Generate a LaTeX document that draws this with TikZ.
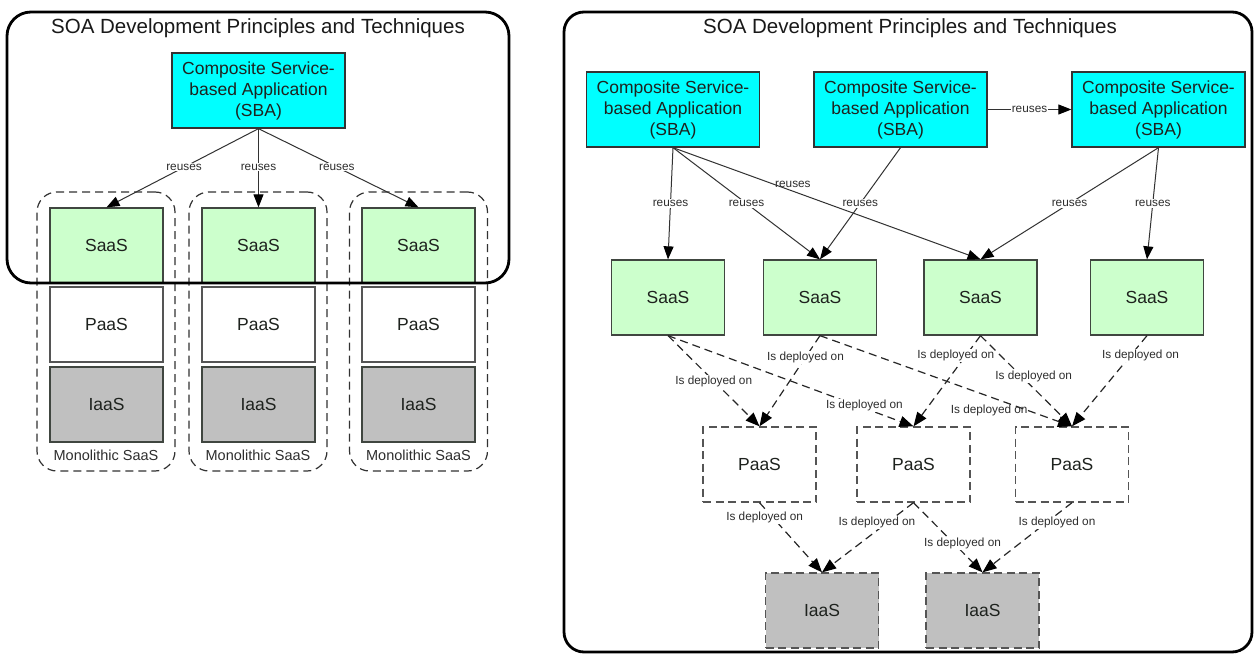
\documentclass[tikz,border=0pt]{standalone}
\usepackage{fontspec}
\setmainfont{Liberation Sans}
\usetikzlibrary{arrows.meta}
\definecolor{sbacyan}{RGB}{0,255,255}
\definecolor{saasgreen}{RGB}{204,255,204}
\definecolor{iaasgray}{RGB}{192,192,192}
\definecolor{boxline}{RGB}{64,70,64}
\definecolor{txt}{RGB}{30,34,30}
\definecolor{edgecol}{RGB}{50,50,50}
\definecolor{lblcol}{RGB}{45,45,45}
\definecolor{dashcol}{RGB}{85,85,85}
\tikzset{
  box/.style={draw=boxline, line width=1.3pt, inner sep=0pt, minimum width=113pt,
    minimum height=75pt, font=\fontsize{17.5}{21}\selectfont, text=txt, align=center},
  sba/.style={box, fill=sbacyan, minimum width=173pt, draw=black!80},
  saas/.style={box, fill=saasgreen},
  paas/.style={box, fill=white, draw=dashcol},
  iaas/.style={box, fill=iaasgray},
  dashedbox/.style={dash pattern=on 8pt off 4.5pt, draw=dashcol},
  reuse/.style={draw=edgecol, line width=1pt, -{Triangle[length=13pt,width=10pt,color=black]}},
  deploy/.style={draw=black!85, line width=1.2pt, dash pattern=on 8pt off 5pt,
    -{Triangle[length=14pt,width=11pt,color=black]}},
  lbl/.style={font=\fontsize{11.8}{13}\selectfont, text=lblcol, fill=white, inner sep=1pt},
  lblclear/.style={font=\fontsize{11.8}{13}\selectfont, text=lblcol, inner sep=1pt},
  frame/.style={draw=black, line width=2.8pt, inner sep=0pt},
  mono/.style={draw=edgecol, line width=1.2pt, dash pattern=on 8pt off 5pt,
    rounded corners=20pt, inner sep=0pt, minimum width=138pt, minimum height=279pt},
  monolbl/.style={font=\fontsize{14.5}{16}\selectfont, text=lblcol},
  title/.style={font=\fontsize{20.5}{24}\selectfont, text=black!90}
}
\begin{document}
\begin{tikzpicture}[x=1pt,y=-1pt]
\useasboundingbox (0,0) rectangle (1255,655);
\fill[white] (0,0) rectangle (1255,655);

% ---------- left panel ----------
\node[mono] (lc1) at (106,331.5) {};
\node[mono] (lc2) at (258,331.5) {};
\node[mono] (lc3) at (418.5,331.5) {};
\node[monolbl] (lm1) at (106,455) {Monolithic SaaS};
\node[monolbl] (lm2) at (258,455) {Monolithic SaaS};
\node[monolbl] (lm3) at (418.5,455) {Monolithic SaaS};

\node[sba] (lsba) at (258.5,90.5) {Composite Service-\\based Application\\(SBA)};
\node[saas] (ls1) at (106.5,245.5) {SaaS};
\node[saas] (ls2) at (258.5,245.5) {SaaS};
\node[saas] (ls3) at (418.5,245.5) {SaaS};
\node[paas] (lp1) at (106.5,324.5) {PaaS};
\node[paas] (lp2) at (258.5,324.5) {PaaS};
\node[paas] (lp3) at (418.5,324.5) {PaaS};
\node[iaas] (li1) at (106.5,404.5) {IaaS};
\node[iaas] (li2) at (258.5,404.5) {IaaS};
\node[iaas] (li3) at (418.5,404.5) {IaaS};

\draw[reuse] (lsba.south) -- (ls1.north) node[lbl, pos=0.49] {reuses};
\draw[reuse] (lsba.south) -- (ls2.north) node[lbl, pos=0.49] {reuses};
\draw[reuse] (lsba.south) -- (ls3.north) node[lbl, pos=0.49] {reuses};

\node[frame, rounded corners=24pt, minimum width=502pt, minimum height=271pt] (lframe) at (258,147.5) {};
\node[title] (ltitle) at (258,28) {SOA Development Principles and Techniques};

% ---------- right panel ----------
\node[frame, rounded corners=20pt, minimum width=688pt, minimum height=640pt] (rframe) at (908,332) {};
\node[title] (rtitle) at (910,28) {SOA Development Principles and Techniques};

\node[sba] (rsba1) at (673,109.5) {Composite Service-\\based Application\\(SBA)};
\node[sba] (rsba2) at (900.5,109.5) {Composite Service-\\based Application\\(SBA)};
\node[sba] (rsba3) at (1158.5,109.5) {Composite Service-\\based Application\\(SBA)};

\node[saas] (rs1) at (668,297.5) {SaaS};
\node[saas] (rs2) at (820,297.5) {SaaS};
\node[saas] (rs3) at (980.5,297.5) {SaaS};
\node[saas] (rs4) at (1147,297.5) {SaaS};

\node[paas, dashedbox] (rp1) at (759.5,464.5) {PaaS};
\node[paas, dashedbox] (rp2) at (913.5,464.5) {PaaS};
\node[paas, dashedbox] (rp3) at (1072,464.5) {PaaS};

\node[iaas, dashedbox] (ri1) at (822,610.5) {IaaS};
\node[iaas, dashedbox] (ri2) at (982.5,610.5) {IaaS};

% reuses
\draw[reuse] (rsba2.east) -- (rsba3.west) node[lbl, midway] {reuses};
\draw[reuse] (rsba1.south) -- (rs3.north) node[lblclear, pos=0.39, anchor=south, yshift=2pt] {reuses};
\draw[reuse] (rsba1.south) -- (rs1.north) node[lbl, pos=0.5] {reuses};
\draw[reuse] (rsba1.south) -- (rs2.north) node[lbl, pos=0.5] {reuses};
\draw[reuse] (rsba2.south) -- (rs2.north) node[lbl, pos=0.5] {reuses};
\draw[reuse] (rsba3.south) -- (rs3.north) node[lbl, pos=0.5] {reuses};
\draw[reuse] (rsba3.south) -- (rs4.north) node[lbl, pos=0.5] {reuses};

% is deployed on
\draw[deploy] (rs1.south) -- (rp1.north) node[lbl, pos=0.5] {Is deployed on};
\draw[deploy] (rs1.south) -- (rp2.north) node[lbl, pos=0.8, yshift=3pt] {Is deployed on};
\draw[deploy] (rs2.south) -- (rp1.north) node[lbl, pos=0.24] {Is deployed on};
\draw[deploy] (rs2.south) -- (rp3.north) node[lblclear, pos=0.83, anchor=east] {Is deployed on};
\draw[deploy] (rs3.south) -- (rp2.north) node[lbl, pos=0.22, xshift=-10pt] {Is deployed on};
\draw[deploy] (rs3.south) -- (rp3.north) node[lbl, pos=0.45, xshift=12pt] {Is deployed on};
\draw[deploy] (rs4.south) -- (rp3.north) node[lbl, pos=0.22, xshift=10pt] {Is deployed on};
\draw[deploy] (rp1.south) -- (ri1.north) node[lbl, pos=0.21, xshift=-8pt] {Is deployed on};
\draw[deploy] (rp2.south) -- (ri1.north) node[lbl, pos=0.28, xshift=-11pt] {Is deployed on};
\draw[deploy] (rp2.south) -- (ri2.north) node[lbl, pos=0.58, xshift=9pt] {Is deployed on};
\draw[deploy] (rp3.south) -- (ri2.north) node[lbl, pos=0.28, xshift=10pt] {Is deployed on};
\end{tikzpicture}
\end{document}
